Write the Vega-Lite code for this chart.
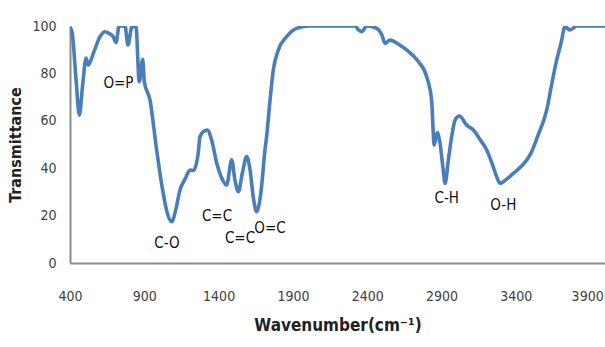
{
  "$schema": "https://vega.github.io/schema/vega-lite/v6.json",
  "width": 535,
  "height": 237,
  "autosize": {"type": "none"},
  "padding": {"left": 70, "top": 26, "right": 0, "bottom": 84},
  "background": "white",
  "config": {
    "view": {"stroke": null},
    "font": "Liberation Sans Narrow, DejaVu Sans Condensed, sans-serif"
  },
  "datasets": {
    "spectrum": [
      {"wn": 400, "t": 99.5}, {"wn": 415, "t": 97}, {"wn": 440, "t": 78}, {"wn": 463, "t": 62.4},
      {"wn": 485, "t": 75}, {"wn": 508, "t": 86.5}, {"wn": 523, "t": 83.5}, {"wn": 560, "t": 89},
      {"wn": 602, "t": 95.5}, {"wn": 636, "t": 97.6}, {"wn": 665, "t": 96.8}, {"wn": 691, "t": 95.5},
      {"wn": 710, "t": 93}, {"wn": 730, "t": 100}, {"wn": 770, "t": 100}, {"wn": 790, "t": 92},
      {"wn": 817, "t": 99.7}, {"wn": 844, "t": 99.7}, {"wn": 866, "t": 76.5}, {"wn": 889, "t": 86},
      {"wn": 900, "t": 76.5}, {"wn": 938, "t": 68.8}, {"wn": 983, "t": 47.7}, {"wn": 1020, "t": 32},
      {"wn": 1055, "t": 21}, {"wn": 1084, "t": 17.4}, {"wn": 1110, "t": 22}, {"wn": 1140, "t": 30.8},
      {"wn": 1175, "t": 35.5}, {"wn": 1208, "t": 39.2}, {"wn": 1230, "t": 39}, {"wn": 1262, "t": 46},
      {"wn": 1275, "t": 53.3}, {"wn": 1300, "t": 55.5}, {"wn": 1324, "t": 56.1}, {"wn": 1353, "t": 51.9},
      {"wn": 1387, "t": 42.2}, {"wn": 1420, "t": 36}, {"wn": 1454, "t": 32.9}, {"wn": 1488, "t": 43.5},
      {"wn": 1510, "t": 35}, {"wn": 1533, "t": 30.1}, {"wn": 1560, "t": 38}, {"wn": 1589, "t": 44.9},
      {"wn": 1610, "t": 40}, {"wn": 1635, "t": 27}, {"wn": 1656, "t": 21.6}, {"wn": 1685, "t": 30},
      {"wn": 1712, "t": 47.7}, {"wn": 1723, "t": 53.3}, {"wn": 1745, "t": 68}, {"wn": 1768, "t": 81.4},
      {"wn": 1802, "t": 89.9}, {"wn": 1858, "t": 95.5}, {"wn": 1925, "t": 99}, {"wn": 2015, "t": 100},
      {"wn": 2318, "t": 100}, {"wn": 2340, "t": 98.5}, {"wn": 2363, "t": 97.6}, {"wn": 2397, "t": 100},
      {"wn": 2464, "t": 99}, {"wn": 2500, "t": 96}, {"wn": 2520, "t": 92.7}, {"wn": 2553, "t": 94.1},
      {"wn": 2610, "t": 92.3}, {"wn": 2665, "t": 89.9}, {"wn": 2744, "t": 85}, {"wn": 2800, "t": 78.6},
      {"wn": 2833, "t": 68.8}, {"wn": 2851, "t": 49.8}, {"wn": 2871, "t": 55}, {"wn": 2890, "t": 50.5},
      {"wn": 2910, "t": 40}, {"wn": 2924, "t": 33.6}, {"wn": 2946, "t": 43.5}, {"wn": 2970, "t": 54},
      {"wn": 2991, "t": 60.3}, {"wn": 3020, "t": 62}, {"wn": 3069, "t": 58.2}, {"wn": 3114, "t": 56.1},
      {"wn": 3160, "t": 52}, {"wn": 3204, "t": 47.7}, {"wn": 3240, "t": 42}, {"wn": 3271, "t": 36.4},
      {"wn": 3294, "t": 33.6}, {"wn": 3340, "t": 35.5}, {"wn": 3383, "t": 37.8}, {"wn": 3440, "t": 41},
      {"wn": 3496, "t": 45.6}, {"wn": 3550, "t": 54}, {"wn": 3608, "t": 64.6}, {"wn": 3640, "t": 75},
      {"wn": 3675, "t": 85.7}, {"wn": 3705, "t": 93}, {"wn": 3731, "t": 99.7}, {"wn": 3765, "t": 98.3},
      {"wn": 3810, "t": 100}, {"wn": 4000, "t": 100}
    ],
    "labels": [
      {"wn": 726, "t": 76, "label": "O=P"},
      {"wn": 1053, "t": 8.4, "label": "C-O"},
      {"wn": 1389, "t": 20, "label": "C=C"},
      {"wn": 1544, "t": 10.5, "label": "C=C"},
      {"wn": 1746, "t": 14.8, "label": "O=C"},
      {"wn": 2935, "t": 27.3, "label": "C-H"},
      {"wn": 3316, "t": 24.5, "label": "O-H"}
    ]
  },
  "layer": [
    {
      "data": {"name": "spectrum"},
      "mark": {"type": "line", "color": "#4a7ebb", "strokeWidth": 3.6, "interpolate": "monotone", "clip": true},
      "encoding": {
        "x": {
          "field": "wn", "type": "quantitative",
          "scale": {"domain": [400, 4000], "nice": false, "zero": false},
          "axis": {
            "values": [400, 900, 1400, 1900, 2400, 2900, 3400, 3900],
            "format": "d",
            "title": "Wavenumber(cm⁻¹)",
            "titleFontSize": 17, "titleFontWeight": "bold", "titleColor": "#222",
            "titlePadding": 14,
            "labelFontSize": 14, "labelColor": "#404040", "labelPadding": 26,
            "labelOffset": {"condition": {"test": "datum.value == 3900", "value": -3}, "value": 0},
            "ticks": false, "grid": false,
            "domainColor": "#8c8c8c", "domainWidth": 2,
            "labelFlush": false, "labelOverlap": false
          }
        },
        "y": {
          "field": "t", "type": "quantitative",
          "scale": {"domain": [0, 100], "nice": false},
          "axis": {
            "values": [0, 20, 40, 60, 80, 100],
            "format": "d",
            "title": "Transmittance",
            "titleFontSize": 16, "titleFontWeight": "bold", "titleColor": "#222",
            "titlePadding": 8,
            "labelFontSize": 14, "labelColor": "#404040", "labelPadding": 14,
            "ticks": false, "grid": false,
            "domainColor": "#8c8c8c", "domainWidth": 2,
            "labelFlush": false
          }
        }
      }
    },
    {
      "data": {"name": "labels"},
      "mark": {"type": "text", "fontSize": 15, "color": "#111", "align": "center", "baseline": "middle"},
      "encoding": {
        "x": {"field": "wn", "type": "quantitative"},
        "y": {"field": "t", "type": "quantitative"},
        "text": {"field": "label"}
      }
    }
  ]
}
